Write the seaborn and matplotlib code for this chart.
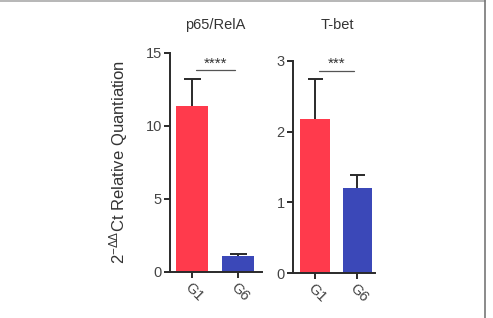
import matplotlib
matplotlib.use("Agg")
import matplotlib.pyplot as plt
import seaborn as sns
import pandas as pd
from matplotlib.lines import Line2D

sns.set_theme(style="ticks")
plt.rcParams['font.family'] = ['Liberation Sans', 'DejaVu Sans']
plt.rcParams['mathtext.default'] = 'regular'

groups = ["G1", "G6"]
p65_mean = [11.35, 1.1]
p65_err = [1.85, 0.12]
tbet_mean = [2.18, 1.2]
tbet_err = [0.57, 0.18]
titles = ["p65/RelA", "T-bet"]
stars = ["****", "***"]
colors = ["#FF3A4C", "#3B48B8"]

fig = plt.figure(figsize=(4.93, 3.18), dpi=100)
ax1 = fig.add_axes([0.345, 0.1447, 0.187, 0.689])
ax2 = fig.add_axes([0.594, 0.1415, 0.167, 0.667])

specs = [
    (ax1, p65_mean, p65_err, (0, 15), [0, 5, 10, 15], (-0.48, 1.52), 13.8, 215),
    (ax2, tbet_mean, tbet_err, (0, 3), [0, 1, 2, 3], (-0.53, 1.42), 2.86, 337),
]
for i, (ax, m, e, ylim, yt, xlim, sy, tx) in enumerate(specs):
    df = pd.DataFrame({"g": groups, "v": m})
    sns.barplot(data=df, x="g", y="v", hue="g", palette=colors, width=0.7,
                legend=False, ax=ax, saturation=1, edgecolor="none")
    tops = [mv + ev for mv, ev in zip(m, e)]
    ax.vlines([0, 1], m, tops, color="#2a2a2a", lw=1.4)
    ax.hlines(tops, [-0.18, 0.82], [0.18, 1.18], color="#2a2a2a", lw=1.4)
    ax.set_ylim(*ylim)
    ax.set_yticks(yt)
    ax.set_xlim(*xlim)
    ax.set_xlabel("")
    ax.set_ylabel("")
    sns.despine(ax=ax)
    for s in ["left", "bottom"]:
        ax.spines[s].set_linewidth(1.4)
        ax.spines[s].set_color("#2a2a2a")
    ax.tick_params(axis="both", width=1.4, length=4, color="#2a2a2a",
                   labelsize=10.5, labelcolor="#444444", pad=2)
    ax.set_xticks([0, 1])
    ax.set_xticklabels(groups, rotation=-45, ha="left", rotation_mode="anchor",
                       fontsize=10.5, color="#444444")
    fig.text(tx / 493, 1 - 25 / 318, titles[i], ha="center", va="center",
             fontsize=10.5, color="#333333")
    ax.plot([0.08, 0.92], [sy, sy], color="#555555", lw=0.9, clip_on=False)
    ax.annotate(stars[i], (0.5, sy), xytext=(0, 0), textcoords="offset points",
                ha="center", va="bottom", fontsize=11, color="#333333")

ax1.set_ylabel("2$^{-ΔΔ}$Ct Relative Quantiation", fontsize=12,
               color="#333333", labelpad=11)

fig.add_artist(Line2D([0, 485 / 493], [0.998, 0.998], transform=fig.transFigure,
                      color="#aaaaaa", lw=1.2))
fig.add_artist(Line2D([485 / 493, 485 / 493], [0, 1], transform=fig.transFigure,
                      color="#777777", lw=1.2))

fig.savefig("out.png", dpi=100)
